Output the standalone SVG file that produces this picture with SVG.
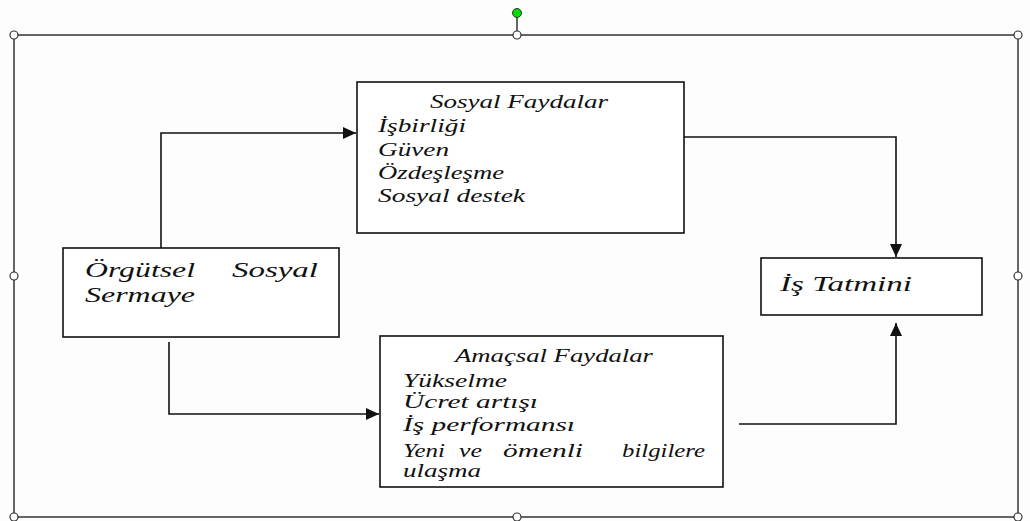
<svg xmlns="http://www.w3.org/2000/svg" width="1030" height="521" viewBox="0 0 1030 521">
<style>
.frame{fill:none;stroke:#333;stroke-width:1.5}
.handle{fill:#fff;stroke:#333;stroke-width:1.2}
.box{fill:#fff;stroke:#111;stroke-width:1.6}
.conn{fill:none;stroke:#111;stroke-width:1.6}
.t{font-family:"Liberation Serif","Times New Roman",serif;font-style:italic;fill:#111;font-size:18px}
.tb{font-family:"Liberation Serif","Times New Roman",serif;font-style:italic;fill:#111;font-size:22px}
</style>
<defs>
<marker id="arr" markerUnits="userSpaceOnUse" markerWidth="16" markerHeight="14" refX="13" refY="6" orient="auto">
<path d="M0,0 L13,6 L0,12 Z" fill="#111"/>
</marker>
</defs>
<rect width="1030" height="521" fill="#fdfdfd"/>
<g id="frame">
<rect class="frame" x="14" y="35" width="1004" height="482"/>
<line x1="517" y1="13" x2="517" y2="35" stroke="#333" stroke-width="1.5"/>
<circle cx="517" cy="13" r="4.5" fill="#00dd00" stroke="#333" stroke-width="1"/>
<circle class="handle" cx="14" cy="35" r="4"/>
<circle class="handle" cx="517" cy="35" r="4"/>
<circle class="handle" cx="1018" cy="35" r="4"/>
<circle class="handle" cx="14" cy="276" r="4"/>
<circle class="handle" cx="1018" cy="276" r="4"/>
<circle class="handle" cx="14" cy="517" r="4"/>
<circle class="handle" cx="517" cy="517" r="4"/>
<circle class="handle" cx="1018" cy="517" r="4"/>
</g>
<g id="connectors">
<path class="conn" d="M161,248 V133 H356" marker-end="url(#arr)"/>
<path class="conn" d="M684,137 H896 V257" marker-end="url(#arr)"/>
<path class="conn" d="M169,342 V414 H379" marker-end="url(#arr)"/>
<path class="conn" d="M739,424 H896 V323" marker-end="url(#arr)"/>
</g>
<g id="sosyal-faydalar">
<rect class="box" x="357" y="82" width="327" height="151"/>
<text class="t" x="430" y="108" textLength="178" lengthAdjust="spacingAndGlyphs">Sosyal Faydalar</text>
<text class="t" x="378" y="132" textLength="88" lengthAdjust="spacingAndGlyphs">İşbirliği</text>
<text class="t" x="378" y="156" textLength="71" lengthAdjust="spacingAndGlyphs">Güven</text>
<text class="t" x="378" y="179" textLength="126" lengthAdjust="spacingAndGlyphs">Özdeşleşme</text>
<text class="t" x="378" y="202" textLength="147" lengthAdjust="spacingAndGlyphs">Sosyal destek</text>
</g>
<g id="orgutsel">
<rect class="box" x="63" y="248" width="276" height="89"/>
<text class="tb" x="85" y="277" textLength="110" lengthAdjust="spacingAndGlyphs">Örgütsel</text>
<text class="tb" x="232" y="277" textLength="86" lengthAdjust="spacingAndGlyphs">Sosyal</text>
<text class="tb" x="85" y="302" textLength="110" lengthAdjust="spacingAndGlyphs">Sermaye</text>
</g>
<g id="amacsal-faydalar">
<rect class="box" x="380" y="336" width="343" height="151"/>
<text class="t" x="455" y="362" textLength="198" lengthAdjust="spacingAndGlyphs">Amaçsal Faydalar</text>
<text class="t" x="403" y="387" textLength="104" lengthAdjust="spacingAndGlyphs">Yükselme</text>
<text class="t" x="403" y="408" textLength="135" lengthAdjust="spacingAndGlyphs">Ücret artışı</text>
<text class="t" x="403" y="431" textLength="172" lengthAdjust="spacingAndGlyphs">İş performansı</text>
<text class="t" x="403" y="457" textLength="42" lengthAdjust="spacingAndGlyphs">Yeni</text>
<text class="t" x="459" y="457" textLength="23" lengthAdjust="spacingAndGlyphs">ve</text>
<text class="t" x="503" y="457" textLength="80" lengthAdjust="spacingAndGlyphs">ömenli</text>
<text class="t" x="622" y="457" textLength="83" lengthAdjust="spacingAndGlyphs">bilgilere</text>
<text class="t" x="403" y="477" textLength="78" lengthAdjust="spacingAndGlyphs">ulaşma</text>
</g>
<g id="is-tatmini">
<rect class="box" x="761" y="258" width="221" height="57"/>
<text class="tb" x="780" y="291" textLength="132" lengthAdjust="spacingAndGlyphs">İş Tatmini</text>
</g>
</svg>
